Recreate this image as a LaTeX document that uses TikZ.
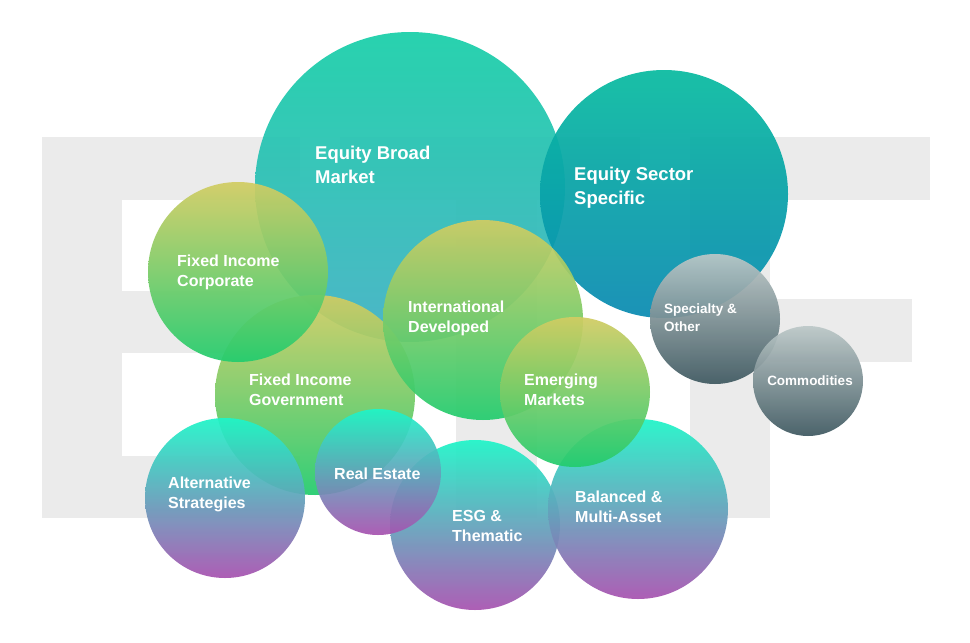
\documentclass[tikz,border=0pt]{standalone}
\usepackage{fontspec}
\setmainfont{Liberation Sans}
\begin{document}
\begin{tikzpicture}[x=1pt,y=-1pt,
 bg/.style={fill=black!8,draw=none},
 lbl/.style={text=white,font=\bfseries\fontsize{16}{20}\selectfont,anchor=west,align=left,inner sep=0pt},
 lblL/.style={lbl,font=\bfseries\fontsize{18.5}{24}\selectfont},
 lblS/.style={lbl,font=\bfseries\fontsize{13.5}{18}\selectfont},
 circ/.style={circle,inner sep=0pt,minimum size=#1*2pt,shading angle=45,opacity=0.93},
 green/.style={top color=green1,bottom color=green2},
 teal/.style={top color=teal1,bottom color=teal2},
 grey/.style={top color=grey1,bottom color=grey2}]
\definecolor{green1}{HTML}{D2CC62}
\definecolor{green2}{HTML}{22CC6E}
\definecolor{teal1}{HTML}{1EF5C8}
\definecolor{teal2}{HTML}{A852B0}
\definecolor{grey1}{HTML}{BCC8C8}
\definecolor{grey2}{HTML}{3E5860}
\definecolor{broad1}{HTML}{18CFA8}
\definecolor{broad2}{HTML}{40B0C4}
\definecolor{sect1}{HTML}{08BBA0}
\definecolor{sect2}{HTML}{0A8AB2}
\useasboundingbox (0,0) rectangle (970,643);
\fill[white] (0,0) rectangle (970,643);
% ETF letters
\fill[bg] (42,137) rectangle (122,518);
\fill[bg] (42,137) rectangle (300,200);
\fill[bg] (42,291) rectangle (250,353);
\fill[bg] (42,456) rectangle (300,518);
\fill[bg] (340,137) rectangle (640,200);
\fill[bg] (456,200) rectangle (537,518);
\fill[bg] (690,137) rectangle (770,518);
\fill[bg] (690,137) rectangle (930,200);
\fill[bg] (690,299) rectangle (912,362);
% circles
\node[circ=155,top color=broad1,bottom color=broad2] (broad) at (410,187) {};
\node[circ=124,top color=sect1,bottom color=sect2] (sector) at (664,194) {};
\node[circ=65,grey] (spec) at (715,319) {};
\node[circ=55,grey] (comm) at (808,381) {};
\node[circ=100,green] (gov) at (315,395) {};
\node[circ=90,green] (corp) at (238,272) {};
\node[circ=80,teal] (alt) at (225,498) {};
\node[circ=85,teal] (esg) at (475,525) {};
\node[circ=63,teal] (re) at (378,472) {};
\node[circ=100,green] (intl) at (483,320) {};
\node[circ=90,teal] (bal) at (638,509) {};
\node[circ=75,green] (em) at (575,392) {};
% labels
\node[lblL] (tbroad) at (315,165) {Equity Broad\\Market};
\node[lblL] (tsect) at (574,188) {Equity Sector\\Specific};
\node[lbl] (tcorp) at (177,272) {Fixed Income\\Corporate};
\node[lbl] (tintl) at (408,318) {International\\Developed};
\node[lbl] (tgov) at (249,390) {Fixed Income\\Government};
\node[lbl] (tem) at (524,390) {Emerging\\Markets};
\node[lblS] (tspec) at (664,318) {Specialty \&\\Other};
\node[lblS,anchor=center] (tcomm) at (810,381) {Commodities};
\node[lbl] (talt) at (168,494) {Alternative\\Strategies};
\node[lbl] (tre) at (334,474) {Real Estate};
\node[lbl] (tesg) at (452,526) {ESG \&\\Thematic};
\node[lbl] (tbal) at (575,507) {Balanced \&\\Multi-Asset};
\end{tikzpicture}
\end{document}
